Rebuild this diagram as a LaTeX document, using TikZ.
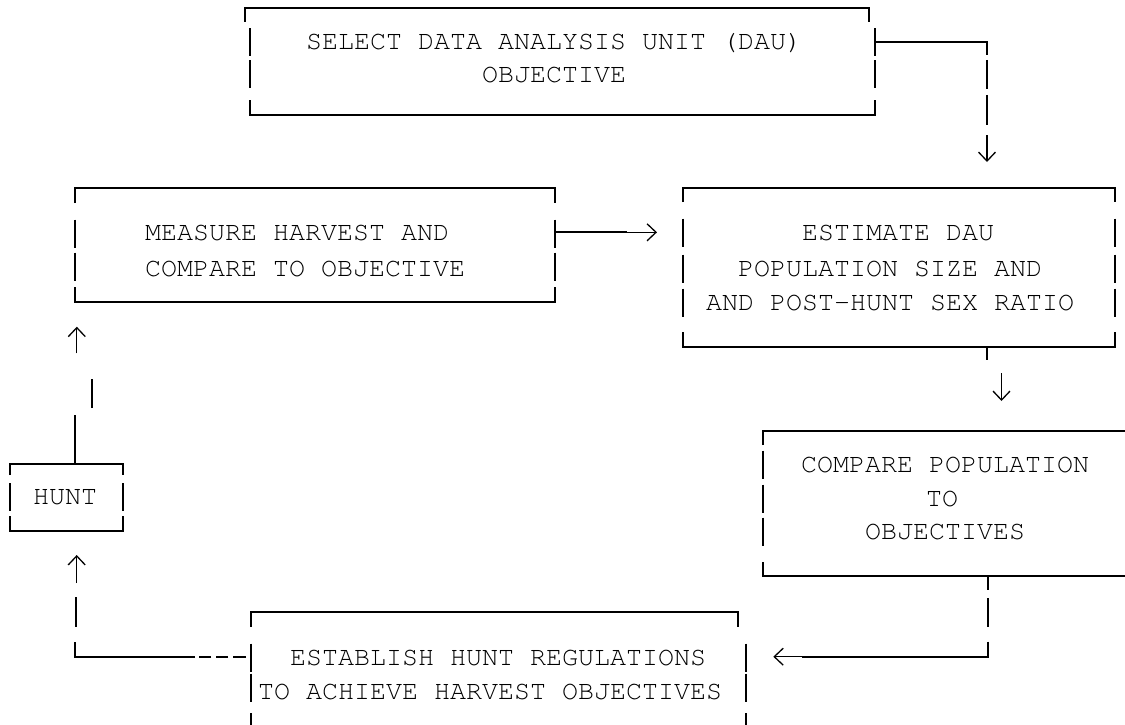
\documentclass[tikz,border=0pt]{standalone}
\usepackage{fontspec}
\newfontfamily\cur{TeX Gyre Cursor}
\usetikzlibrary{arrows.meta}
\tikzset{
  bline/.style={line width=2pt, line cap=butt, line join=miter},
  cline/.style={line width=2pt, line cap=butt, line join=miter},
  garrow/.style={line width=1.3pt, -{Straight Barb[length=9pt,width=17pt]}},
  txt/.style={font=\cur\fontsize{26.67pt}{30pt}\selectfont, anchor=base west, inner sep=0pt, outer sep=0pt},
}
% vertical side pieces of a box: x, list of row centres
\newcommand\rowsides[2]{\foreach \rc in {#2}{\draw[bline] (#1,\rc-14) -- (#1,\rc+14);}}
\begin{document}
\begin{tikzpicture}[x=1pt,y=-1pt]
\useasboundingbox (0,0) rectangle (1125,725);
\fill[white] (0,0) rectangle (1125,725);

% ---------- box A : select DAU ----------
\draw[bline] (245,22) -- (245,8) -- (869,8) -- (869,22);
\rowsides{250}{42.5,74.5}
\rowsides{875}{42.5,74.5}
\draw[bline] (250,100) -- (250,115) -- (875,115) -- (875,100);
\node[txt] (a1) at (306,50) {SELECT DATA ANALYSIS UNIT (DAU)};
\node[txt] (a2) at (482,82) {OBJECTIVE};

% ---------- box B : measure harvest ----------
\draw[bline] (74.6,203) -- (74.6,188.3) -- (555,188.3) -- (555,203);
\rowsides{74.6}{233.5,266.5}
\rowsides{555}{233.5,266.5}
\draw[bline] (74.6,287) -- (74.6,302.3) -- (555,302.3) -- (555,287);
\node[txt] (b1) at (145,240.5) {MEASURE HARVEST AND};
\node[txt] (b2) at (145,276.5) {COMPARE TO OBJECTIVE};

% ---------- box C : estimate ----------
\draw[bline] (683,202) -- (683,188.3) -- (1115,188.3) -- (1115,202);
\rowsides{683}{232.5,268.5,302.5}
\rowsides{1115}{232.5,268.5,302.5}
\draw[bline] (683,332) -- (683,346.7) -- (1115,346.7) -- (1115,332);
\node[txt] (c1) at (802,240.5) {ESTIMATE DAU};
\node[txt] (c2) at (738,276.5) {POPULATION SIZE AND};
\node[txt] (c3) at (706,310.5) {AND POST-HUNT SEX RATIO};

% ---------- box D : hunt ----------
\draw[bline] (10,475) -- (10,464) -- (122.7,464) -- (122.7,475);
\rowsides{10}{497}
\rowsides{122.7}{497}
\draw[bline] (10,516) -- (10,530.7) -- (122.7,530.7) -- (122.7,516);
\node[txt] (d1) at (33,504.5) {HUNT};

% ---------- box E : compare population ----------
\draw[bline] (762.7,445) -- (762.7,430.7) -- (1125,430.7);
\rowsides{762.7}{464.5,498.5,531.5}
\draw[bline] (1125,576) -- (762.7,576) -- (762.7,561.7);
\node[txt] (e1) at (801,472.5) {COMPARE POPULATION};
\node[txt] (e2) at (926,506.5) {TO};
\node[txt] (e3) at (865,539.5) {OBJECTIVES};

% ---------- box F : establish regulations ----------
\draw[bline] (251,626.7) -- (251,611.7) -- (738,611.7) -- (738,626.7);
\rowsides{251}{657.5,687.5}
\rowsides{746}{657.5,687.5}
\draw[bline] (251,713) -- (251,725);
\draw[bline] (746,713) -- (746,725);
\node[txt] (f1) at (290,665.5) {ESTABLISH HUNT REGULATIONS};
\node[txt] (f2) at (258,699.5) {TO ACHIEVE HARVEST OBJECTIVES};

% ---------- connector A -> C ----------
\coordinate (aout) at (875,41.7);
\coordinate (acorner) at (987,41.7);
\coordinate (aarrS) at (987,135);
\coordinate (aarrE) at (987,162);
\draw[cline] (aout) -- (acorner) -- ++(0,13.3);
\draw[cline] (987,60) -- (987,89.3);
\draw[cline] (987,95) -- (987,125);
\draw[garrow] (aarrS) -- (aarrE);

% ---------- connector B -> C ----------
\coordinate (bout) at (555,232.3);
\coordinate (bin) at (657,232.3);
\draw[cline] (bout) -- (627,232.3);
\draw[garrow] (626,232.3) -- (bin);

% ---------- connector C -> E ----------
\coordinate (cout) at (986.7,346.7);
\draw[cline] (cout) -- (986.7,360);
\coordinate (carrS) at (1001.5,373);
\coordinate (carrE) at (1001.5,401);
\draw[garrow] (carrS) -- (carrE);

% ---------- connector E -> F ----------
\coordinate (eout) at (988.3,576);
\coordinate (ecorner) at (988.3,656.7);
\coordinate (fin) at (773.3,656.7);
\draw[cline] (eout) -- (988.3,590);
\draw[cline] (988.3,598) -- (988.3,626.7);
\draw[cline] (988.3,641.7) -- (ecorner) -- (801.7,656.7);
\draw[garrow] (802.7,656.7) -- (fin);

% ---------- connector F -> D ----------
\coordinate (fout) at (251,657);
\coordinate (fcorner) at (75,657);
\draw[cline] (246,657) -- (233,657);
\draw[cline] (228,657) -- (216,657);
\draw[cline] (211,657) -- (199,657);
\draw[cline] (195,657) -- (fcorner) -- (75,641.7);
\draw[cline] (75.7,597) -- (75.7,627);
\coordinate (darrS) at (76.7,583);
\coordinate (darrE) at (76.7,555);
\draw[garrow] (darrS) -- (darrE);

% ---------- connector D -> B ----------
\coordinate (dout) at (74.5,464);
\draw[cline] (dout) -- (74.5,415);
\draw[cline] (91.5,408) -- (91.5,379);
\coordinate (barrS) at (76.8,353.3);
\coordinate (barrE) at (76.8,326.7);
\draw[garrow] (barrS) -- (barrE);
\end{tikzpicture}
\end{document}
